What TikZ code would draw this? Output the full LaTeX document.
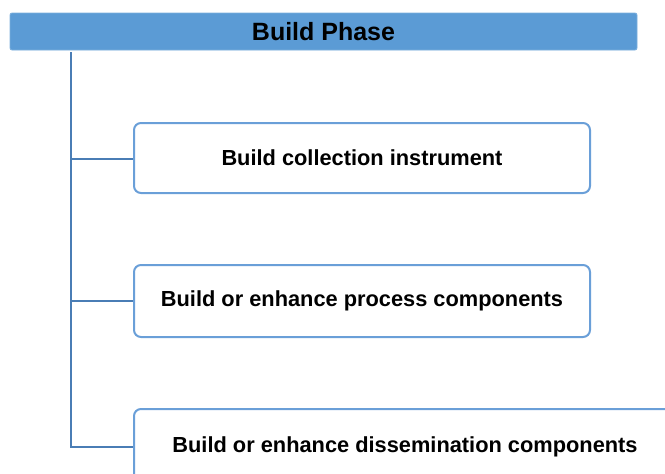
\documentclass[tikz,border=0pt]{standalone}
\usepackage{fontspec}
\setmainfont{Liberation Sans}
\begin{document}
\begin{tikzpicture}[x=1pt,y=-1pt,
  header/.style={fill=hdrblue, draw=hdrblue!80!white, line width=0.8pt, rounded corners=2pt},
  itembox/.style={draw=boxblue, line width=2pt, fill=white, rounded corners=7pt},
  itemtext/.style={font=\bfseries\fontsize{21.8}{25}\selectfont, text=black},
  link/.style={draw=linkblue, line width=2.2pt}
]
\definecolor{hdrblue}{HTML}{5B9BD5}
\definecolor{boxblue}{HTML}{6A9FD8}
\definecolor{linkblue}{HTML}{4A7DB5}
\useasboundingbox (0,0) rectangle (665,474);
% header
\path[header] (10,13) rectangle (637,50);
\node[font=\bfseries\fontsize{25}{29}\selectfont] (hdr) at (323.5,31.5) {Build Phase};
% boxes
\path[itembox] (134,123) rectangle (590,193);
\node[itemtext] (b1) at (362,158) {Build collection instrument};
\path[itembox] (134,265) rectangle (590,337);
\node[itemtext] (b2) at (362,301) {Build or enhance process components};
\path[itembox] (134,409) rectangle (680,490);
\node[itemtext] (b3) at (405,446.5) {Build or enhance dissemination components};
% connectors
\coordinate (top) at (71,52);
\coordinate (j1) at (71,159);
\coordinate (j2) at (71,301);
\coordinate (j3) at (71,447);
\coordinate (e1) at (133,159);
\coordinate (e2) at (133,301);
\coordinate (e3) at (133,447);
\draw[link] (top) -- (j3) -- (e3);
\draw[link] (j1) -- (e1);
\draw[link] (j2) -- (e2);
\end{tikzpicture}
\end{document}
